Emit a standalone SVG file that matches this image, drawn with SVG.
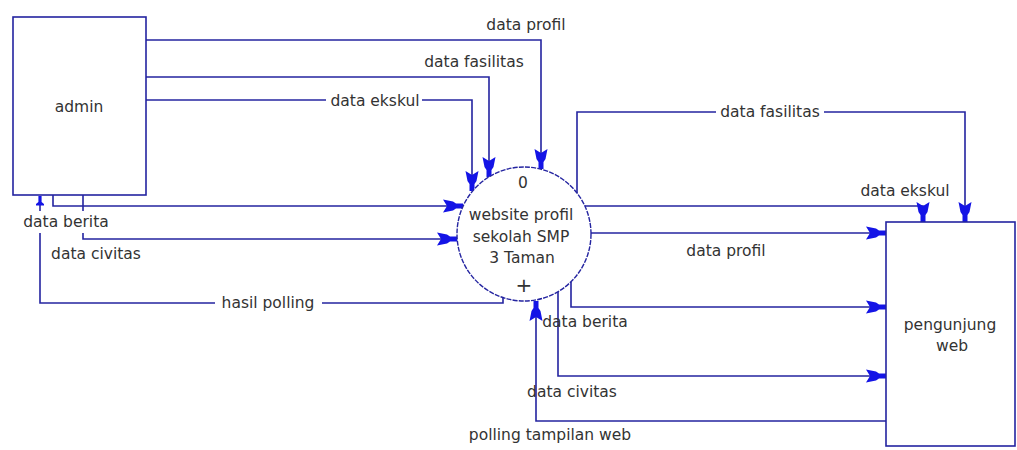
<svg xmlns="http://www.w3.org/2000/svg" width="1017" height="450" viewBox="0 0 1017 450">
<style>
.box{fill:#fff;stroke:#2424a0;stroke-width:1.6}
.proc{fill:#fff;stroke:#2424a0;stroke-width:1.4;stroke-dasharray:5 1.2}
.ln{fill:none;stroke:#2424a0;stroke-width:1.6}
.ar{marker-end:url(#ah)}
.t{font-family:"DejaVu Sans",Verdana,sans-serif;font-size:15.5px;fill:#333;text-anchor:middle}
</style>
<defs>
<marker id="ah" markerUnits="userSpaceOnUse" orient="auto" refX="0" refY="0" markerWidth="24" markerHeight="16" viewBox="-22 -8 24 16" overflow="visible">
<path d="M0,-2.5 L-7,-2.5 L-10,-4.5 L-20,-6.5 L-16,0 L-20,6.5 L-10,4.5 L-7,2.5 L0,2.5 Z" fill="#1414e6"/>
</marker>
<marker id="ahs" markerUnits="userSpaceOnUse" orient="auto" refX="0" refY="0" markerWidth="12" markerHeight="10" viewBox="-10 -5 12 10" overflow="visible">
<path d="M0,-1.6 L-6,-1.6 L-8,-4 L-9.5,-4 L-9.5,4 L-8,4 L-6,1.6 L0,1.6 Z" fill="#1414e6"/>
</marker>
</defs>
<rect width="1017" height="450" fill="#fff"/>
<g id="connectors">
<path class="ln ar" d="M146,40 H541 V169"/>
<path class="ln ar" d="M146,77 H489 V177"/>
<path class="ln" d="M146,100 H326"/>
<path class="ln ar" d="M422,100 H472 V191"/>
<path class="ln ar" d="M53,195 V206 H463"/>
<path class="ln" d="M83,195 V211"/>
<path class="ln ar" d="M83,233 V239 H457"/>
<path class="ln" d="M503,297 V303 H322"/>
<path class="ln" d="M215,303 H40 V233"/>
<path class="ln" d="M40,211 V196" marker-end="url(#ahs)"/>
<path class="ln" d="M577,193 V112 H716"/>
<path class="ln ar" d="M824,112 H965 V222"/>
<path class="ln ar" d="M585,206 H923 V222"/>
<path class="ln ar" d="M591,233 H886"/>
<path class="ln ar" d="M571,282 V307 H886"/>
<path class="ln ar" d="M558,292 V376 H886"/>
<path class="ln ar" d="M886,421 H536 V301"/>
</g>
<g id="admin">
<rect class="box" x="13" y="17" width="133" height="178"/>
<text class="t" x="79" y="112">admin</text>
</g>
<g id="process">
<circle class="proc" cx="524" cy="234" r="67"/>
<text class="t" x="523" y="188">0</text>
<text class="t" x="521" y="220">website profil</text>
<text class="t" x="521" y="242">sekolah SMP</text>
<text class="t" x="522" y="263">3 Taman</text>
<text class="t" x="524" y="292" style="font-size:20px">+</text>
</g>
<g id="pengunjung">
<rect class="box" x="886" y="222" width="129" height="224"/>
<text class="t" x="950" y="330">pengunjung</text>
<text class="t" x="952" y="351">web</text>
</g>
<g id="labels">
<text class="t" x="526" y="30">data profil</text>
<text class="t" x="474" y="67">data fasilitas</text>
<text class="t" x="375" y="106">data ekskul</text>
<text class="t" x="770" y="117">data fasilitas</text>
<text class="t" x="905" y="196">data ekskul</text>
<text class="t" x="726" y="256">data profil</text>
<text class="t" x="66" y="227">data berita</text>
<text class="t" x="96" y="259">data civitas</text>
<text class="t" x="268" y="308">hasil polling</text>
<text class="t" x="585" y="327">data berita</text>
<text class="t" x="572" y="397">data civitas</text>
<text class="t" x="550" y="440">polling tampilan web</text>
</g>
</svg>
